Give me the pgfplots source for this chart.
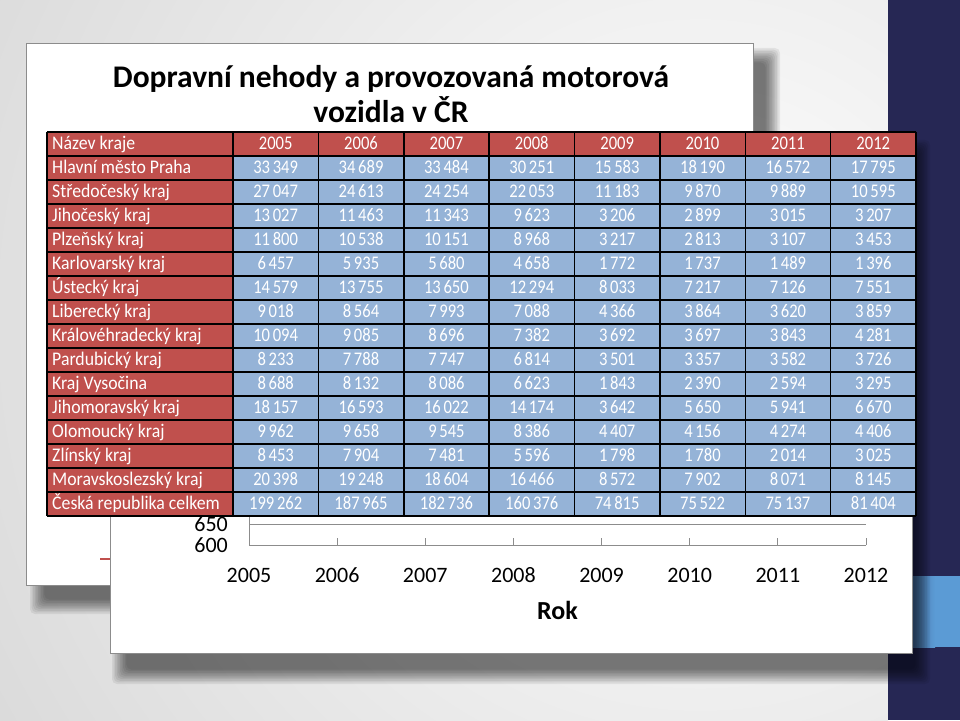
\documentclass[border=0pt]{standalone}
\usepackage{fontspec}
\setmainfont{Carlito}
\newfontfamily\tabfont[FakeStretch=0.92]{Carlito}
\newfontfamily\numfont[FakeStretch=0.86]{Carlito}
\usepackage{pgfplots}
\pgfplotsset{compat=1.18}
\definecolor{navy}{RGB}{38,39,84}
\definecolor{strip}{RGB}{91,155,213}
\definecolor{cellred}{RGB}{192,80,77}
\definecolor{cellblue}{RGB}{149,179,215}
\definecolor{axgray}{RGB}{140,140,140}
\definecolor{bggray}{RGB}{190,190,190}
\newcommand\tabsize{\fontsize{19.3}{19.3}\selectfont}
% soft shadow: lower left x,y / upper right x,y
\newcommand\softshadow[4]{%
  \foreach \k in {0,...,9}{\fill[black,opacity=0.065,rounded corners=5pt]
    (#1+1.6*\k,#2+1.6*\k) rectangle (#3-1.6*\k,#4-1.6*\k);}}

\begin{document}
\begin{tikzpicture}[x=1pt,y=1pt]
\useasboundingbox (0,0) rectangle (960,720);
% slide background
\begin{scope}
  \clip (0,0) rectangle (888,720);
  \shade[inner color=white, outer color=bggray] (700,400) circle (1450);
\end{scope}
\fill[navy] (888,0) rectangle (960,720);
\shade[left color=navy!70!strip, right color=strip] (888,73) rectangle (935,144);
\fill[strip] (935,73) rectangle (960,144);

% back slide box
\softshadow{30}{106}{780}{672}
\fill[white, draw=axgray, line width=0.8pt] (26,135) rectangle (753,677);
\node[anchor=base, font=\fontsize{31.5}{31.5}\selectfont\bfseries] at (391,632)
  {Dopravní nehody a provozovaná motorová};
\node[anchor=base, font=\fontsize{31.5}{31.5}\selectfont\bfseries] at (391,597)
  {vozidla v ČR};
\draw[cellred, line width=2pt] (100,161) -- (112,161);

% front chart box
\softshadow{112}{36}{930}{580}
\fill[white, draw=axgray, line width=0.8pt] (110,67) rectangle (912,586);

\begin{scope}[x=1cm,y=1cm]
\begin{axis}[
  at={(249pt,175pt)}, anchor=south west,
  scale only axis, width=617pt, height=210pt,
  xmin=2005, xmax=2012, ymin=600, ymax=1100,
  xtick={2005,2006,...,2012}, ytick={600,650},
  axis x line*=bottom, axis y line*=left,
  axis line style={draw=axgray, line width=0.9pt, -},
  ymajorgrids, grid style={draw=axgray, line width=0.9pt},
  tick align=inside, major tick length=7pt,
  xtick style={draw=axgray, line width=0.9pt},
  ytick style={draw=none},
  /pgf/number format/assume math mode=true,
  /pgf/number format/1000 sep={},
  tick label style={font=\fontsize{22}{22}\selectfont, text=black, inner sep=0pt},
  yticklabel style={anchor=east, xshift=-21pt},
  xticklabel style={anchor=base, yshift=-37pt},
  xlabel={\textbf{Rok}},
  xlabel style={font=\fontsize{26}{26}\selectfont, at={(axis description cs:0.5,0)},
    anchor=base, yshift=-74pt},
]
\addplot[draw=none] coordinates {(2005,600) (2012,600)};
\end{axis}
\end{scope}

% data table
\pgfkeys{/pgf/number format/.cd, fixed, precision=0,
  1000 sep={\hspace{0.14em}}, assume math mode=true}
\fill[cellred] (47,564) rectangle (916,588);
\node[anchor=base west, inner sep=0pt, text=white, font=\tabfont\tabsize] at (52,570) {Název kraje};
\foreach \y [count=\j] in {2005,2006,2007,2008,2009,2010,2011,2012}
  \node[anchor=base, inner sep=0pt, text=white, font=\numfont\tabsize]
    at (233+85.375*\j-42.69,570) {\y};
\foreach \n/\a/\b/\c/\d/\e/\f/\g/\h [count=\i] in {
  Hlavní město Praha/33349/34689/33484/30251/15583/18190/16572/17795,
  Středočeský kraj/27047/24613/24254/22053/11183/9870/9889/10595,
  Jihočeský kraj/13027/11463/11343/9623/3206/2899/3015/3207,
  Plzeňský kraj/11800/10538/10151/8968/3217/2813/3107/3453,
  Karlovarský kraj/6457/5935/5680/4658/1772/1737/1489/1396,
  Ústecký kraj/14579/13755/13650/12294/8033/7217/7126/7551,
  Liberecký kraj/9018/8564/7993/7088/4366/3864/3620/3859,
  Královéhradecký kraj/10094/9085/8696/7382/3692/3697/3843/4281,
  Pardubický kraj/8233/7788/7747/6814/3501/3357/3582/3726,
  Kraj Vysočina/8688/8132/8086/6623/1843/2390/2594/3295,
  Jihomoravský kraj/18157/16593/16022/14174/3642/5650/5941/6670,
  Olomoucký kraj/9962/9658/9545/8386/4407/4156/4274/4406,
  Zlínský kraj/8453/7904/7481/5596/1798/1780/2014/3025,
  Moravskoslezský kraj/20398/19248/18604/16466/8572/7902/8071/8145,
  Česká republika celkem/199262/187965/182736/160376/74815/75522/75137/81404}{
  \fill[cellred] (47,564-24*\i) rectangle (233,588-24*\i);
  \fill[cellblue] (233,564-24*\i) rectangle (916,588-24*\i);
  \node[anchor=base west, inner sep=0pt, text=white, font=\tabfont\tabsize]
    at (52,570-24*\i) {\n};
  \foreach \v [count=\j] in {\a,\b,\c,\d,\e,\f,\g,\h}
    \node[anchor=base, inner sep=0pt, text=white, font=\numfont\tabsize]
      at (233+85.375*\j-42.69,570-24*\i) {\pgfmathprintnumber{\v}};
}
\foreach \i in {0,...,16}
  \draw[line width=1.5pt] (47,588-24*\i) -- (916,588-24*\i);
\draw[line width=1.5pt] (47,588) -- (47,204);
\draw[line width=1.5pt] (233,588) -- (233,204);
\foreach \j in {1,...,8}
  \draw[line width=1.5pt] (233+85.375*\j,588) -- (233+85.375*\j,204);
\end{tikzpicture}
\end{document}
